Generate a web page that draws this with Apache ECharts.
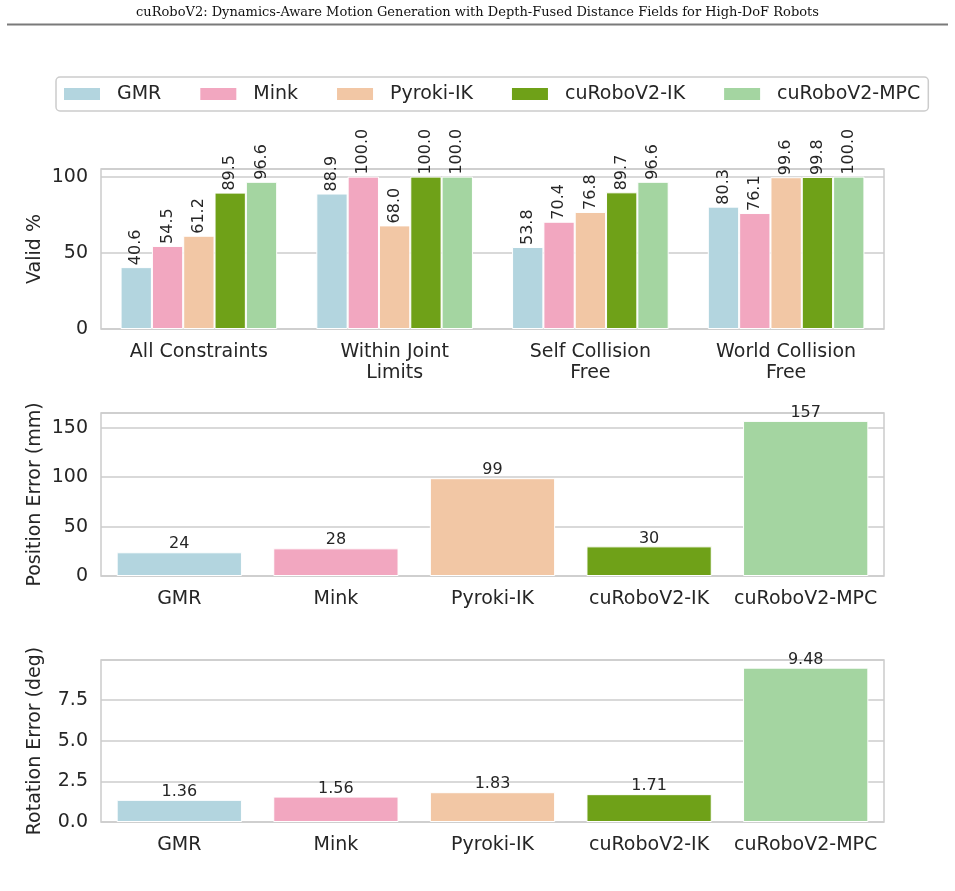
<!DOCTYPE html>
<html><head><meta charset="utf-8">
<script src="https://cdn.jsdelivr.net/npm/echarts@6/dist/echarts.min.js"></script>
<style>html,body{margin:0;padding:0;background:#fff}#c{width:955px;height:891px}</style>
</head><body><div id="c"></div>
<script>
const headerText = 'cuRoboV2: Dynamics-Aware Motion Generation with Depth-Fused Distance Fields for High-DoF Robots';
const categories = ['All Constraints', 'Within Joint\nLimits', 'Self Collision\nFree', 'World Collision\nFree'];
const methods = ['GMR', 'Mink', 'Pyroki-IK', 'cuRoboV2-IK', 'cuRoboV2-MPC'];
const colors = ['#B3D5DF', '#F2A7C0', '#F2C7A5', '#6FA118', '#A4D5A1'];
const validGMR = [40.6, 88.9, 53.8, 80.3];
const validMink = [54.5, 100.0, 70.4, 76.1];
const validPyroki = [61.2, 68.0, 76.8, 99.6];
const validIK = [89.5, 100.0, 89.7, 99.8];
const validMPC = [96.6, 100.0, 96.6, 100.0];
const posErr = [24, 28, 99, 30, 157];
const rotErr = [1.36, 1.56, 1.83, 1.71, 9.48];
const validTicks = [0, 50, 100];
const posTicks = [0, 50, 100, 150];
const rotTicks = [0.0, 2.5, 5.0, 7.5];

const validData = [validGMR, validMink, validPyroki, validIK, validMPC];
const F = 'DejaVu Sans';
const TC = '#262626';
const GC = '#cccccc';

function grid(top, h) {
  return {left: 101, width: 783, top: top, height: h, show: true, borderColor: GC, borderWidth: 1.5, containLabel: false};
}
function xAxis(gi, data) {
  return {type: 'category', gridIndex: gi, data: data, boundaryGap: true,
    axisLine: {show: false}, axisTick: {show: false}, splitLine: {show: false},
    axisLabel: {fontSize: 19, color: TC, fontFamily: F, margin: 13, lineHeight: 21, interval: 0}};
}
function yAxis(gi, name, max, ticks, dec) {
  const interval = ticks[1] - ticks[0];
  return {type: 'value', gridIndex: gi, min: 0, max: max, interval: interval,
    name: name, nameLocation: 'middle', nameGap: 56, nameMoveOverlap: false,
    nameTextStyle: {fontSize: 19, color: TC, fontFamily: F},
    axisLine: {show: false}, axisTick: {show: false},
    axisLabel: {fontSize: 19, color: TC, fontFamily: F, margin: 13,
      formatter: v => ticks.some(t => Math.abs(t - v) < 1e-6) ? v.toFixed(dec) : ''},
    splitLine: {lineStyle: {color: GC, width: 1.5}}};
}
const labelBase = {show: true, color: TC, fontFamily: F, fontSize: 16};

const series = methods.map((m, i) => ({
  name: m, type: 'bar', xAxisIndex: 0, yAxisIndex: 0, data: validData[i],
  barGap: '0%', barCategoryGap: '20%',
  itemStyle: {color: colors[i], borderColor: '#fff', borderWidth: 1},
  label: Object.assign({}, labelBase, {position: 'top', rotate: 90, align: 'left', verticalAlign: 'middle', distance: 2,
    formatter: p => p.value.toFixed(1)})
}));
series.push({
  name: 'Position Error', type: 'bar', xAxisIndex: 1, yAxisIndex: 1, data: posErr,
  colorBy: 'data', barCategoryGap: '20%',
  itemStyle: {borderColor: '#fff', borderWidth: 1},
  label: Object.assign({}, labelBase, {position: 'top', distance: 0, formatter: p => String(p.value)})
});
series.push({
  name: 'Rotation Error', type: 'bar', xAxisIndex: 2, yAxisIndex: 2, data: rotErr,
  colorBy: 'data', barCategoryGap: '20%',
  itemStyle: {borderColor: '#fff', borderWidth: 1},
  label: Object.assign({}, labelBase, {position: 'top', distance: 0, formatter: p => p.value.toFixed(2)})
});

const option = {
  animation: false,
  color: colors,
  textStyle: {fontFamily: F},
  legend: {data: methods, left: 56, top: 77, padding: [6, 8, 6, 8], itemWidth: 36, itemHeight: 12, itemGap: 39,
    borderColor: GC, borderWidth: 1.5, borderRadius: 4, icon: 'rect', selectedMode: false,
    itemStyle: {borderWidth: 0},
    textStyle: {fontSize: 19, color: TC, fontFamily: F, lineHeight: 22, padding: [0, 0, 0, 12]}},
  grid: [grid(169, 160), grid(413, 163), grid(660, 162)],
  xAxis: [xAxis(0, categories), xAxis(1, methods), xAxis(2, methods)],
  yAxis: [yAxis(0, 'Valid %', 105, validTicks, 0), yAxis(1, 'Position Error (mm)', 165, posTicks, 0), yAxis(2, 'Rotation Error (deg)', 9.95, rotTicks, 1)],
  series: series,
  graphic: [
    {type: 'text', left: 'center', top: 6, style: {text: headerText, font: '13px "DejaVu Serif"', fill: '#111'}},
    {type: 'line', shape: {x1: 7, y1: 24.5, x2: 948, y2: 24.5}, style: {stroke: '#7a7a7a', lineWidth: 2}}
  ]
};
const chart = echarts.init(document.getElementById('c'), null, {renderer: 'canvas'});
chart.setOption(option);
</script></body></html>
